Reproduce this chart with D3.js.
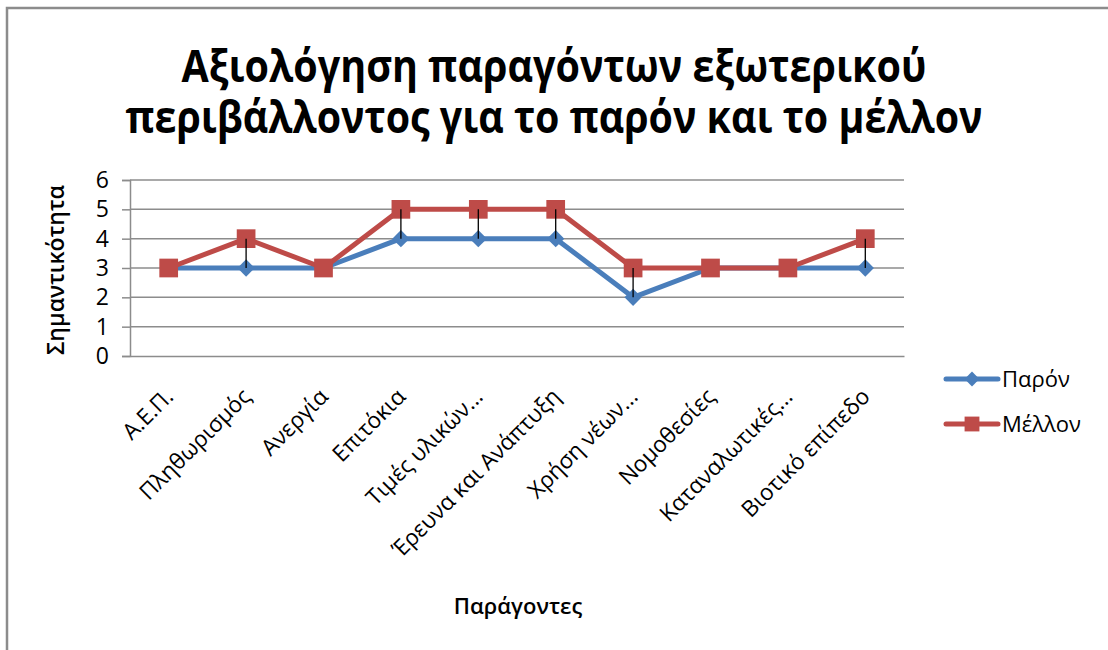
<!DOCTYPE html>
<html>
<head>
<meta charset="utf-8">
<script src="https://cdn.jsdelivr.net/npm/d3@7/dist/d3.min.js"></script>
<style>
  html, body { margin: 0; padding: 0; background: #fff; }
  svg { display: block; }
  text { font-family: "Open Sans", "Noto Sans", sans-serif; fill: #000; }
</style>
</head>
<body>
<svg id="chart" width="1108" height="650"></svg>
<script>
// Factors of the external environment and their rated importance
const categories = [
  "Α.Ε.Π.", "Πληθωρισμός", "Ανεργία", "Επιτόκια", "Τιμές υλικών...",
  "Έρευνα και Ανάπτυξη", "Χρήση νέων...", "Νομοθεσίες", "Καταναλωτικές...", "Βιοτικό επίπεδο"
];
const presentValues = [3, 3, 3, 4, 4, 4, 2, 3, 3, 3];
const futureValues  = [3, 4, 3, 5, 5, 5, 3, 3, 3, 4];
const yTicks = [0, 1, 2, 3, 4, 5, 6];
const seriesNames = ["Παρόν", "Μέλλον"];

const titleLines = [
  "Αξιολόγηση παραγόντων εξωτερικού",
  "περιβάλλοντος για το παρόν και το μέλλον"
];
const yTitle = "Σημαντικότητα";
const xTitle = "Παράγοντες";

const colors = { present: "#4a7ebb", future: "#be4b48" };
const gridColor = "#8c8c8c";

const svg = d3.select("#chart");

// Outer chart frame
svg.append("rect")
  .attr("x", 7).attr("y", 8)
  .attr("width", 1120).attr("height", 660)
  .attr("fill", "none")
  .attr("stroke", "#8c8c8c")
  .attr("stroke-width", 2.5);

// Title, two lines, fitted to its width
const titleWidths = [745, 857];
const titleBaselines = [82, 133];
titleLines.forEach((t, i) => {
  svg.append("text")
    .attr("x", 554).attr("y", titleBaselines[i])
    .attr("text-anchor", "middle")
    .style("font-size", "45px")
    .attr("font-weight", "bold")
    .attr("textLength", titleWidths[i])
    .attr("lengthAdjust", "spacingAndGlyphs")
    .text(t);
});

// Plot area
const plot = { left: 130, right: 904, top: 180, bottom: 356 };

const x = d3.scaleBand()
  .domain(categories)
  .range([plot.left, plot.right])
  .paddingInner(0).paddingOuter(0);

const y = d3.scaleLinear()
  .domain([0, 6])
  .range([plot.bottom, plot.top]);

const cx = d => x(d) + x.bandwidth() / 2;

// Horizontal gridlines
svg.append("g")
  .selectAll("line")
  .data(yTicks.filter(v => v > 0))
  .join("line")
  .attr("x1", plot.left).attr("x2", plot.right)
  .attr("y1", d => y(d)).attr("y2", d => y(d))
  .attr("stroke", gridColor)
  .attr("stroke-width", 1.5);

// Value axis
const yAxis = svg.append("g")
  .attr("transform", `translate(${plot.left},0)`)
  .call(d3.axisLeft(y).tickValues(yTicks).tickSize(8).tickPadding(13).tickFormat(d3.format("d")));
yAxis.attr("font-size", null).attr("font-family", null);
yAxis.select(".domain").attr("stroke", gridColor).attr("stroke-width", 1.5);
yAxis.selectAll(".tick line").attr("stroke", gridColor).attr("stroke-width", 1.5);
yAxis.selectAll(".tick text")
  .style("font-size", "23px")
  .attr("fill", "#000");

// Category axis (no tick marks)
const xAxis = svg.append("g")
  .attr("transform", `translate(0,${plot.bottom})`)
  .call(d3.axisBottom(x).tickSize(0).tickFormat(""));
xAxis.select(".domain").attr("stroke", gridColor).attr("stroke-width", 1.5);

// Rotated category labels
svg.append("g")
  .selectAll("text")
  .data(categories)
  .join("text")
  .attr("transform", d => `translate(${cx(d) + 6},${plot.bottom + 42}) rotate(-45)`)
  .attr("text-anchor", "end")
  .style("font-size", "22.5px")
  .text(d => d);

const hiLo = categories
  .map((c, i) => ({ c, lo: presentValues[i], hi: futureValues[i] }))
  .filter(d => d.lo !== d.hi);

const line = d3.line()
  .x((d, i) => cx(categories[i]))
  .y(d => y(d));

const diamond = d3.symbol().type(d3.symbolDiamond2).size(190);
const square = d3.symbol().type(d3.symbolSquare).size(350);

// Present series line
svg.append("path")
  .datum(presentValues)
  .attr("d", line)
  .attr("fill", "none")
  .attr("stroke", colors.present)
  .attr("stroke-width", 5)
  .attr("stroke-linejoin", "round");

// Future series line
svg.append("path")
  .datum(futureValues)
  .attr("d", line)
  .attr("fill", "none")
  .attr("stroke", colors.future)
  .attr("stroke-width", 5)
  .attr("stroke-linejoin", "round");

// Diamond markers
svg.append("g")
  .selectAll("path")
  .data(presentValues)
  .join("path")
  .attr("transform", (d, i) => `translate(${cx(categories[i])},${y(d)})`)
  .attr("d", diamond)
  .attr("fill", colors.present);

// Square markers
svg.append("g")
  .selectAll("path")
  .data(futureValues)
  .join("path")
  .attr("transform", (d, i) => `translate(${cx(categories[i])},${y(d)})`)
  .attr("d", square)
  .attr("fill", colors.future);

// High-low lines between the two series
svg.append("g")
  .selectAll("line")
  .data(hiLo)
  .join("line")
  .attr("x1", d => cx(d.c)).attr("x2", d => cx(d.c))
  .attr("y1", d => y(d.lo)).attr("y2", d => y(d.hi))
  .attr("stroke", "#000")
  .attr("stroke-width", 1.3);

// Axis titles
svg.append("text")
  .attr("transform", `translate(64,270) rotate(-90)`)
  .attr("text-anchor", "middle")
  .style("font-size", "23px")
  .attr("font-weight", 600)
  .text(yTitle);

svg.append("text")
  .attr("x", 518).attr("y", 614)
  .attr("text-anchor", "middle")
  .style("font-size", "22px")
  .attr("font-weight", 600)
  .text(xTitle);

// Legend
const legend = svg.append("g");
const legendItems = [
  { name: seriesNames[0], color: colors.present, sym: d3.symbol().type(d3.symbolDiamond2).size(140), y: 379 },
  { name: seriesNames[1], color: colors.future, sym: d3.symbol().type(d3.symbolSquare).size(220), y: 424 }
];
legendItems.forEach(it => {
  legend.append("line")
    .attr("x1", 946).attr("x2", 998)
    .attr("y1", it.y).attr("y2", it.y)
    .attr("stroke", it.color)
    .attr("stroke-width", 5)
    .attr("stroke-linecap", "round");
  legend.append("path")
    .attr("transform", `translate(972,${it.y})`)
    .attr("d", it.sym())
    .attr("fill", it.color);
  legend.append("text")
    .attr("x", 1002).attr("y", it.y + 8)
    .style("font-size", "22px")
    .text(it.name);
});
</script>
</body>
</html>
